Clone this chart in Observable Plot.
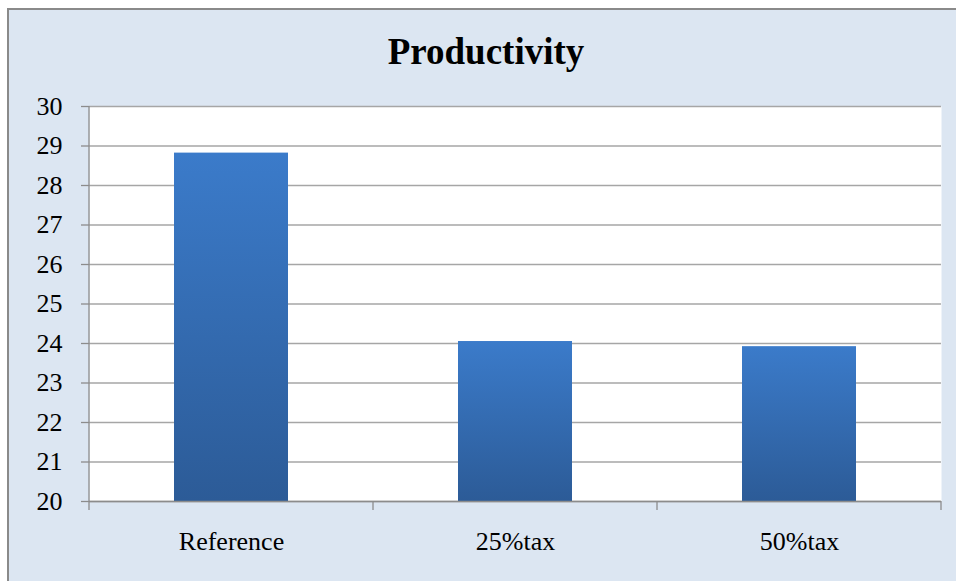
<!DOCTYPE html>
<html>
<head>
<meta charset="utf-8">
<script src="https://cdn.jsdelivr.net/npm/d3@7"></script>
<script src="https://cdn.jsdelivr.net/npm/@observablehq/plot@0.6"></script>
<style>
  html, body { margin: 0; padding: 0; background: #ffffff; }
  #wrap { position: relative; width: 956px; height: 581px; overflow: hidden; }
  #panel { position: absolute; left: 7px; top: 8px; width: 960px; height: 590px;
           background: #dce6f2; border-left: 2px solid #8a8a8a; border-top: 2px solid #8a8a8a; }
  #title { position: absolute; left: 0; top: 33px; width: 972px; text-align: center;
           font-family: "Liberation Serif", "Times New Roman", serif; font-weight: bold;
           font-size: 37px; line-height: 37px; color: #000; }
  #chart { position: absolute; left: 0; top: 0; }
  #chart svg { background: transparent !important; overflow: visible; }
  #chart svg, #chart svg text, #chart svg g { font-family: "Liberation Serif", "Times New Roman", serif !important; }
</style>
</head>
<body>
<div id="wrap">
  <div id="panel"></div>
  <div id="chart"></div>
  <div id="title">Productivity</div>
</div>
<script>
const categories = ["Reference", "25%tax", "50%tax"];
const productivity = [28.82, 24.05, 23.92];
const yTicks = [20, 21, 22, 23, 24, 25, 26, 27, 28, 29, 30];

const data = categories.map((c, i) => ({category: c, value: productivity[i]}));

const defs = () => {
  const svg = d3.create("svg:defs");
  const g = svg.append("linearGradient").attr("id", "barGrad")
    .attr("x1", 0).attr("y1", 0).attr("x2", 0).attr("y2", 1);
  g.append("stop").attr("offset", "0%").attr("stop-color", "#3b7bca");
  g.append("stop").attr("offset", "100%").attr("stop-color", "#2c5b97");
  const f = svg.append("filter").attr("id", "shadow").attr("x", "-10%").attr("y", "-10%")
    .attr("width", "130%").attr("height", "130%");
  f.append("feDropShadow").attr("dx", 2).attr("dy", 2).attr("stdDeviation", 2)
    .attr("flood-color", "#000").attr("flood-opacity", 0.25);
  return svg.node();
};

const axisLines = (index, scales, values, dims) => {
  const left = dims.marginLeft, right = dims.width - dims.marginRight;
  const bottom = dims.height - dims.marginBottom, top = dims.marginTop;
  const g = d3.create("svg:g").attr("stroke", "#8c8c8c").attr("stroke-width", 1.3);
  g.append("line").attr("x1", left).attr("x2", left).attr("y1", top).attr("y2", bottom);
  const n = categories.length;
  for (let i = 0; i <= n; i++) {
    const x = left + i * (right - left) / n;
    g.append("line").attr("x1", x).attr("x2", x).attr("y1", bottom).attr("y2", bottom + 9);
  }
  return g.node();
};

const serif = "Liberation Serif, Times New Roman, serif";

const plot = Plot.plot({
  width: 956,
  height: 581,
  marginLeft: 89,
  marginRight: 15,
  marginTop: 106,
  marginBottom: 80,
  style: {background: "transparent", fontFamily: serif, fontSize: "26px", color: "#000"},
  x: {domain: categories, paddingInner: 0.6, paddingOuter: 0.3, label: null},
  y: {domain: [20, 30], label: null},
  marks: [
    defs,
    Plot.frame({fill: "white", stroke: null}),
    Plot.gridY(yTicks, {stroke: "#a6a6a6", strokeOpacity: 1, strokeWidth: 1.3}),
    Plot.axisY(yTicks, {tickSize: 8, tickPadding: 19, stroke: "#8c8c8c", strokeWidth: 1.3, fill: "#000", fontSize: 26, fontFamily: serif, label: null}),
    Plot.axisX({tickSize: 0, tickPadding: 30, fill: "#000", fontSize: 26, fontFamily: serif, label: null}),
    Plot.barY(data, {x: "category", y1: 20, y2: "value", fill: "url(#barGrad)", style: {filter: "url(#shadow)"}}),
    Plot.ruleY([20], {stroke: "#8c8c8c", strokeWidth: 1.3}),
    axisLines
  ]
});
document.getElementById("chart").appendChild(plot);
</script>
</body>
</html>
